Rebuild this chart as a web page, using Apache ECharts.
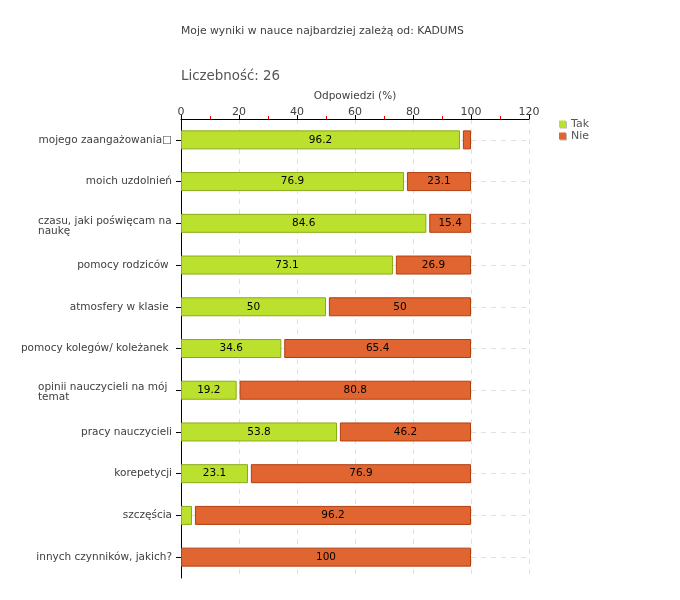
<!DOCTYPE html>
<html>
<head>
<meta charset="utf-8">
<script src="https://cdn.jsdelivr.net/npm/echarts@6/dist/echarts.min.js"></script>
<style>
html,body{margin:0;padding:0;background:#fff;}
#c{width:680px;height:600px;}
</style>
</head>
<body>
<div id="c"></div>
<script>
var titleText = 'Moje wyniki w nauce najbardziej zależą od: KADUMS';
var countText = 'Liczebność: 26';
var axisName = 'Odpowiedzi (%)';
var categories = [
  'mojego zaangażowania\u25A1',
  'moich uzdolnień',
  'czasu, jaki poświęcam na\nnaukę',
  'pomocy rodziców ',
  'atmosfery w klasie ',
  'pomocy kolegów/ koleżanek ',
  'opinii nauczycieli na mój\ntemat',
  'pracy nauczycieli',
  'korepetycji',
  'szczęścia',
  'innych czynników, jakich?'
];
var tak = [96.2, 76.9, 84.6, 73.1, 50, 34.6, 19.2, 53.8, 23.1, 3.8, 0];
var nie = [3.8, 23.1, 15.4, 26.9, 50, 65.4, 80.8, 46.2, 76.9, 96.2, 100];
var xTicks = [0, 20, 40, 60, 80, 100, 120];

var FONT = 'DejaVu Sans';
var GAP = 1; // visual separation between segments (style)

var ctx = document.createElement('canvas').getContext('2d');
ctx.font = '10.5px "' + FONT + '"';
function blockWidth(v) {
  var w = 0;
  v.split('\n').forEach(function (l) { w = Math.max(w, ctx.measureText(l).width); });
  return Math.ceil(w);
}
var maxMulti = 0;
categories.forEach(function (c) { if (c.indexOf('\n') >= 0) maxMulti = Math.max(maxMulti, blockWidth(c)); });
function labelFmt(v) {
  if (v.indexOf('\n') < 0) return v;
  var lines = v.split('\n');
  return '{s| }\n' + lines.map(function (l) { return '{m|' + l + '}'; }).join('\n');
}

var takDraw = tak.map(function (t) { return t > 0 ? t : null; });
var gapData = tak.map(function (t) { return t > 0 ? GAP : null; });
var nieDraw = nie.map(function (n, i) { return tak[i] > 0 ? n - GAP : n; });

var chart = echarts.init(document.getElementById('c'), null, {renderer: 'canvas'});
chart.setOption({
  animation: false,
  backgroundColor: '#ffffff',
  textStyle: {fontFamily: FONT},
  title: [
    {text: titleText, left: 181, top: 26, padding: 0, textStyle: {fontFamily: FONT, fontSize: 10.8, fontWeight: 'normal', color: '#404040'}},
    {text: countText, left: 181, top: 70, padding: 0, textStyle: {fontFamily: FONT, fontSize: 13.4, fontWeight: 'normal', color: '#555555'}}
  ],
  legend: {
    data: ['Tak', 'Nie'],
    orient: 'vertical',
    left: 559, top: 118, padding: 0,
    itemWidth: 7, itemHeight: 7, itemGap: 0,
    icon: 'rect',
    itemStyle: {borderWidth: 0, shadowColor: '#b8b8b8', shadowOffsetX: 1, shadowOffsetY: 1, shadowBlur: 0},
    textStyle: {fontFamily: FONT, fontSize: 11, lineHeight: 12, color: '#555555'},
    selectedMode: false
  },
  grid: {left: 181, right: 151, top: 119, bottom: 22, containLabel: false},
  xAxis: {
    type: 'value', position: 'top', min: 0, max: 120, interval: 20,
    name: axisName, nameLocation: 'middle', nameGap: 12,
    nameTextStyle: {fontFamily: FONT, fontSize: 10.5, color: '#404040'},
    axisLine: {show: true, lineStyle: {color: '#000', width: 1}},
    axisTick: {show: true, length: 4, lineStyle: {color: '#000'}},
    minorTick: {show: true, splitNumber: 2, length: 3, lineStyle: {color: '#ff0000'}},
    axisLabel: {fontFamily: FONT, fontSize: 11, color: '#404040', margin: 1,
      formatter: function (v) { return xTicks.indexOf(v) >= 0 ? String(v) : ''; }},
    splitLine: {show: true, lineStyle: {color: '#e0e0e0', type: [5, 5]}},
    minorSplitLine: {show: false}
  },
  yAxis: {
    type: 'category', inverse: true, data: categories,
    axisLine: {show: true, onZero: false, lineStyle: {color: '#000', width: 1}},
    axisTick: {show: true, alignWithLabel: true, length: 5, lineStyle: {color: '#000'}},
    axisLabel: {fontFamily: FONT, fontSize: 10.5, color: '#404040', margin: 9,
      formatter: labelFmt,
      rich: {
        s: {fontSize: 4, lineHeight: 5, height: 5, width: maxMulti},
        m: {fontFamily: FONT, fontSize: 10.5, color: '#404040', width: maxMulti, align: 'left', lineHeight: 10, height: 10}
      }},
    splitLine: {show: false}
  },
  series: [
    {
      name: 'Tak', type: 'bar', stack: 'a', barWidth: 19, z: 3,
      data: takDraw,
      itemStyle: {color: '#bce02e', borderColor: '#8aab18', borderWidth: 1},
      label: {show: true, position: 'inside', color: '#000', fontFamily: FONT, fontSize: 10.5,
        formatter: function (p) { return tak[p.dataIndex] >= 10 ? String(tak[p.dataIndex]) : ''; }},
      markLine: {
        silent: true, symbol: 'none', z: 1,
        label: {show: false},
        lineStyle: {color: '#e0e0e0', type: [5, 5], width: 1},
        data: categories.map(function (c) { return {yAxis: c}; })
      }
    },
    {
      name: 'gap', type: 'bar', stack: 'a', barWidth: 19, silent: true, z: 3,
      data: gapData,
      itemStyle: {color: 'rgba(0,0,0,0)', borderWidth: 0}
    },
    {
      name: 'Nie', type: 'bar', stack: 'a', barWidth: 19, z: 3,
      data: nieDraw,
      itemStyle: {color: '#e06530', borderColor: '#b23f10', borderWidth: 1},
      label: {show: true, position: 'inside', color: '#000', fontFamily: FONT, fontSize: 10.5,
        formatter: function (p) { return nie[p.dataIndex] >= 10 ? String(nie[p.dataIndex]) : ''; }}
    }
  ]
});
</script>
</body>
</html>
